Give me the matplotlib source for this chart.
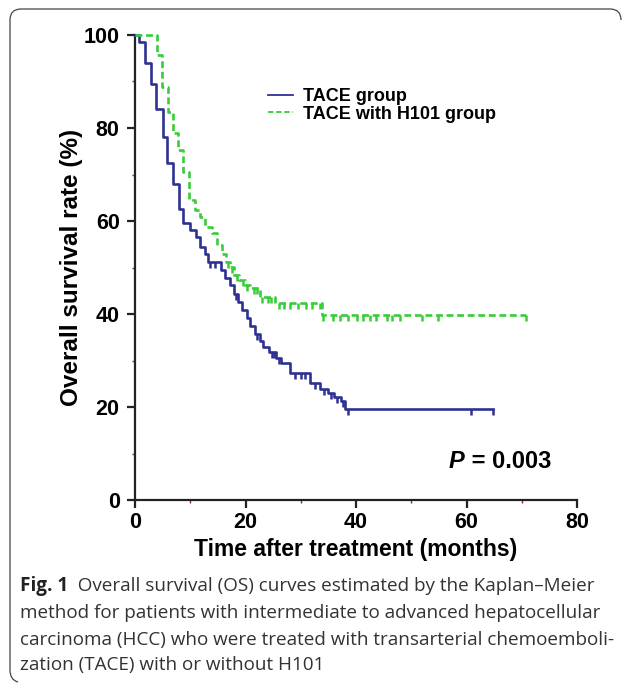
import numpy as np
import matplotlib
matplotlib.use("Agg")
import matplotlib.pyplot as plt
from matplotlib.lines import Line2D
from matplotlib.path import Path
from matplotlib.patches import PathPatch

# Kaplan-Meier data (months, % surviving after each step)
tace_times = [0.8, 1.8, 2.9, 3.8, 5.0, 5.8, 6.8, 7.9, 8.7, 9.9, 11.0, 11.8, 12.7, 13.2,
              15.6, 16.2, 17.2, 17.9, 18.7, 19.4, 20.2, 20.9, 21.7, 22.6, 23.2, 24.3,
              25.6, 26.5, 28.1, 31.7, 33.5, 35.0, 36.0, 37.2, 38.0]
tace_surv = [98.5, 94.0, 89.5, 84.0, 78.0, 72.5, 68.0, 62.5, 59.5, 58.0, 56.5, 54.5, 53.0, 51.2,
             49.5, 47.8, 46.2, 44.4, 42.6, 40.9, 39.2, 37.5, 35.8, 34.3, 33.0, 31.8,
             30.6, 29.4, 27.3, 25.1, 23.8, 23.0, 22.2, 21.2, 19.6]
tace_end = 64.8
tace_censor = [13.6, 14.5, 18.3, 22.0, 24.8, 25.2, 26.0, 29.0, 30.0, 30.8, 32.5, 34.2,
               35.4, 36.5, 37.6, 38.6, 60.8, 64.8]

h101_times = [3.9, 4.8, 5.9, 6.9, 7.8, 8.7, 9.8, 10.9, 11.8, 12.7, 13.9, 14.8, 15.7,
              16.4, 17.2, 17.9, 18.9, 19.9, 20.8, 22.6, 25.3, 33.8]
h101_surv = [95.7, 88.9, 83.4, 78.9, 75.3, 70.6, 64.5, 62.4, 60.8, 58.8, 57.4, 54.8, 53.0,
             51.2, 50.2, 48.4, 47.3, 46.2, 45.5, 43.7, 42.3, 39.7]
h101_end = 70.8
h101_censor = [16.8, 17.6, 18.5, 19.5, 20.3, 21.5, 22.0, 23.0, 24.0, 24.6, 26.0, 27.0, 28.0,
               29.5, 31.0, 32.0, 33.4, 34.1, 35.9, 37.1, 38.6, 40.1, 41.3, 42.5, 43.7,
               45.6, 46.5, 48.0, 51.9, 54.9, 70.8]

labels = ["TACE group", "TACE with H101 group"]
p_value = "0.003"

blue = "#2e3192"
green = "#39cc39"
tick_red = "#b01e1e"
sans = "Liberation Sans"

W, H = 627, 684
fig = plt.figure(figsize=(W / 100, H / 100), dpi=100)
ax = fig.add_axes([135 / W, 1 - 500 / H, 442 / W, 465 / H])


def km(times, surv, end):
    x = np.r_[0, times, end]
    y = np.r_[100, surv, surv[-1]]
    return x, y


def level_at(times, surv, t):
    i = np.searchsorted(times, t, side="right")
    return np.r_[100, surv][i]


tick_down = Path([(0, 0), (0, -1)])

for times, surv, end, cens, col, ls in [
        (tace_times, tace_surv, tace_end, tace_censor, blue, "-"),
        (h101_times, h101_surv, h101_end, h101_censor, green, "--")]:
    x, y = km(times, surv, end)
    line, = ax.step(x, y, where="post", color=col, lw=1.9, clip_on=False, zorder=3)
    if ls == "--":
        line.set_dashes((2.6, 1.4))
    cy = [level_at(times, surv, t) for t in cens]
    ax.plot(cens, cy, ls="none", marker=tick_down, ms=8, mew=1.8, color=col,
            clip_on=False, zorder=3)

ax.set_xlim(0, 80)
ax.set_ylim(0, 100)
for s in ["top", "right"]:
    ax.spines[s].set_visible(False)
for s in ["left", "bottom"]:
    ax.spines[s].set_linewidth(1.6)
    ax.spines[s].set_color("#222222")

ax.set_xticks([0, 20, 40, 60, 80])
ax.set_yticks([0, 20, 40, 60, 80, 100])
ax.set_xticks([10, 30, 50, 70], minor=True)
ax.set_yticks([10, 30, 50, 70, 90], minor=True)
ax.tick_params(which="major", direction="out", length=6, width=1.6, color="#222222",
               labelsize=15.5)
ax.tick_params(axis="x", which="major", pad=3)
ax.tick_params(axis="y", which="major", pad=5)
ax.tick_params(which="minor", direction="out", length=2.5, width=1.0, color=tick_red)
for lab in ax.get_xticklabels() + ax.get_yticklabels():
    lab.set_fontweight("bold")
    lab.set_family(sans)

ax.set_xlabel("Time after treatment (months)", fontsize=16.5, fontweight="bold",
              family=sans, labelpad=3)
ax.set_ylabel("Overall survival rate (%)", fontsize=17.5, fontweight="bold", family=sans)
ax.yaxis.set_label_coords(-0.118, 0.5)

handles = [Line2D([], [], color=blue, lw=1.3),
           Line2D([], [], color=green, lw=1.3, dashes=(3, 1.5))]
ax.legend(handles, labels, loc="upper left", bbox_to_anchor=(0.28, 0.905),
          frameon=False, handlelength=1.4, handletextpad=0.55, labelspacing=0.02,
          borderpad=0, prop={"family": sans, "weight": "bold", "size": 13})

pt = ax.text(56.8, 8.2, "P", fontsize=17, fontweight="bold", fontstyle="italic",
             family=sans, va="center")
ax.annotate(" = " + p_value, xy=(1, 0.5), xycoords=pt, va="center", ha="left",
            fontsize=17, fontweight="bold", family=sans)

# caption
cap = ["Overall survival (OS) curves estimated by the Kaplan\u2013Meier",
       "method for patients with intermediate to advanced hepatocellular",
       "carcinoma (HCC) who were treated with transarterial chemoemboli-",
       "zation (TACE) with or without H101"]
cap_y = [586, 613, 640, 665]
cap_size = 13.6
ft = fig.text(20 / W, 1 - cap_y[0] / H, "Fig. 1", fontsize=cap_size, fontweight="bold",
              family="Open Sans", va="center", color="#222222")
plt.annotate("  " + cap[0], xy=(1, 0.5), xycoords=ft, va="center", ha="left",
             fontsize=cap_size, family="Open Sans", color="#333333")
for line, yy in zip(cap[1:], cap_y[1:]):
    fig.text(20 / W, 1 - yy / H, line, fontsize=cap_size, family="Open Sans", va="center",
             color="#333333")


# rounded frame (top and left edges)
def px(x, y):
    return (x / W, 1 - y / H)


verts = [px(621, 20), px(621, 9), px(610, 9), px(21, 9), px(10, 9), px(10, 20),
         px(10, 670), px(10, 680), px(18, 682)]
codes = [Path.MOVETO, Path.CURVE3, Path.CURVE3, Path.LINETO, Path.CURVE3, Path.CURVE3,
         Path.LINETO, Path.CURVE3, Path.CURVE3]
fig.patches.append(PathPatch(Path(verts, codes), transform=fig.transFigure, fill=False,
                             lw=0.9, edgecolor="#444444"))

fig.savefig("out.png", dpi=100)
